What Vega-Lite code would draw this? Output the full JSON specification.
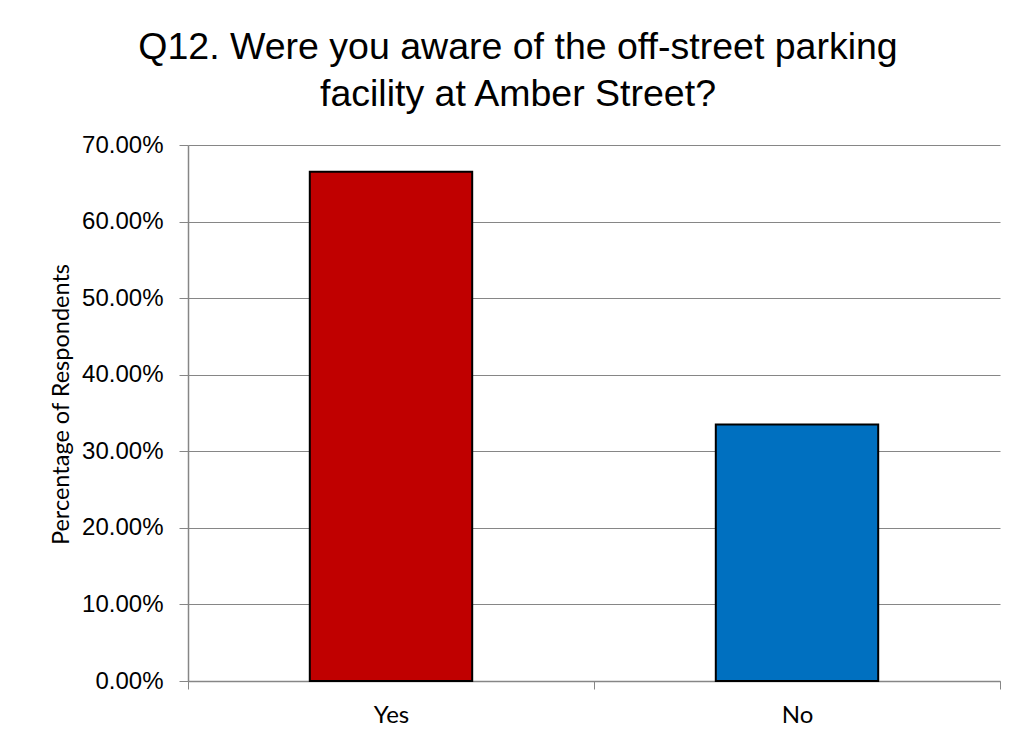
{
  "$schema": "https://vega.github.io/schema/vega-lite/v6.json",
  "autosize": "none",
  "width": 812,
  "height": 536,
  "padding": {"left": 188, "top": 145, "right": 17, "bottom": 63},
  "background": "white",
  "title": {
    "text": ["Q12. Were you aware of the off-street parking", "facility at Amber Street?"],
    "font": "Liberation Sans",
    "fontSize": 37.5,
    "fontWeight": "normal",
    "color": "#000000",
    "anchor": "middle",
    "frame": "group",
    "dx": -76,
    "lineHeight": 47,
    "offset": 20
  },
  "data": {
    "values": [
      {"answer": "Yes", "pct": 0.665},
      {"answer": "No", "pct": 0.335}
    ]
  },
  "mark": {"type": "bar", "stroke": "#000000", "strokeWidth": 2, "width": {"band": 0.4}},
  "encoding": {
    "x": {
      "field": "answer",
      "type": "nominal",
      "sort": ["Yes", "No"],
      "scale": {"paddingInner": 0, "paddingOuter": 0},
      "axis": {
        "title": null,
        "labelAngle": 0,
        "labelFont": "Lato",
        "labelFontSize": 24,
        "labelColor": "#000000",
        "labelPadding": 14,
        "tickBand": "extent",
        "tickSize": 8,
        "tickColor": "#868686",
        "domainColor": "#868686",
        "domainWidth": 1.5,
        "grid": false
      }
    },
    "y": {
      "field": "pct",
      "type": "quantitative",
      "scale": {"domain": [0, 0.7], "nice": false},
      "axis": {
        "title": "Percentage of Respondents",
        "titleFont": "Lato",
        "titleFontSize": 23.5,
        "titleFontWeight": "normal",
        "titleColor": "#000000",
        "titlePadding": 8,
        "titleY": 259,
        "values": [0, 0.1, 0.2, 0.3, 0.4, 0.5, 0.6, 0.7],
        "format": ".2%",
        "labelFont": "Liberation Sans",
        "labelFontSize": 24,
        "labelColor": "#000000",
        "labelPadding": 16,
        "tickSize": 9,
        "tickColor": "#868686",
        "domainColor": "#868686",
        "domainWidth": 1.5,
        "grid": true,
        "gridColor": "#868686",
        "gridWidth": 1
      }
    },
    "color": {
      "field": "answer",
      "type": "nominal",
      "scale": {"domain": ["Yes", "No"], "range": ["#C00000", "#0070C0"]},
      "legend": null
    }
  },
  "config": {"view": {"stroke": null}}
}
